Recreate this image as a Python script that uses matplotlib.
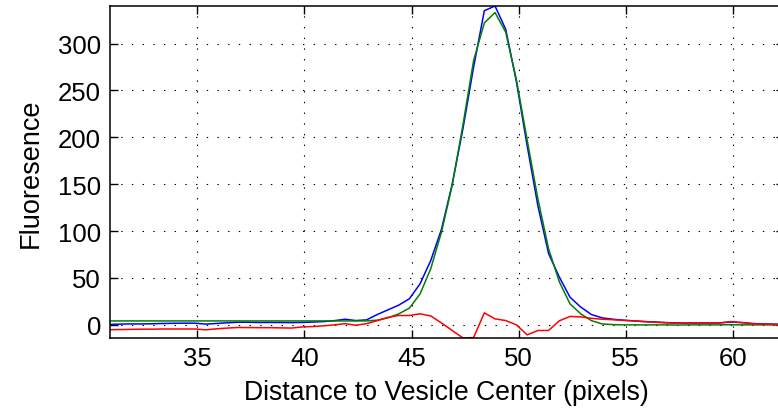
import numpy as np
import matplotlib
matplotlib.use("Agg")
import matplotlib.pyplot as plt

plt.rcParams['font.family'] = ['Liberation Sans', 'DejaVu Sans']
plt.rcParams['lines.scale_dashes'] = False

# distance to vesicle center (pixels)
distance = [30.9 + 0.5 * i for i in range(64)]

blue = [0.5, 0.8, 1.0, 1.0, 1.2, 1.5, 1.7, 1.8, 1.8, 0.8,
        1.5, 2.2, 2.8, 2.8, 2.5, 2.6, 2.5, 2.4, 2.6, 3.0,
        3.5, 4.5, 6.0, 4.6, 5.3, 11.0, 16.0, 21.0, 27.8, 43.8,
        68.7, 102.0, 150.0, 209.0, 275.0, 335.0, 340.0, 315.0, 259.0, 191.0,
        127.0, 76.0, 51.0, 29.5, 19.0, 11.0, 7.5, 6.0, 5.0, 4.2,
        3.5, 3.0, 2.4, 2.0, 2.0, 2.0, 2.0, 2.2, 3.0, 2.5,
        1.5, 1.0, 0.8, 0.5]

green = [4.2, 4.2, 4.2, 4.2, 4.2, 4.2, 4.2, 4.2, 4.2, 4.2,
         4.2, 4.2, 4.2, 4.2, 4.2, 4.2, 4.2, 4.2, 4.2, 4.2,
         4.2, 4.2, 4.2, 4.2, 4.2, 5.0, 7.5, 11.7, 17.8, 33.0,
         60.0, 99.0, 149.0, 213.0, 282.0, 322.0, 333.0, 312.0, 261.0, 197.0,
         134.5, 81.0, 46.0, 22.4, 11.8, 4.5, 1.0, 0.3, 0.0, 0.0,
         0.0, 0.0, 0.0, -0.2, 0.0, 0.0, 0.0, 0.0, 0.2, 0.0,
         0.0, 0.0, 0.0, 0.0]

red = [-5.2, -5.0, -4.8, -4.6, -4.6, -4.4, -4.4, -4.4, -4.4, -5.3,
       -4.2, -3.4, -2.8, -2.9, -3.0, -3.0, -3.2, -3.4, -2.2, -1.8,
       -1.0, 0.0, 1.3, -0.4, 1.3, 4.5, 8.0, 10.0, 10.0, 11.8,
       9.5, 2.0, -6.0, -14.0, -13.5, 12.8, 6.4, 4.6, 0.0, -10.7,
       -6.0, -6.0, 4.3, 9.0, 8.5, 7.0, 6.0, 5.5, 4.8, 4.2,
       3.4, 2.8, 2.2, 1.8, 2.0, 2.2, 1.8, 2.0, 3.5, 2.5,
       1.2, 0.8, 0.5, 0.5]

xticks = [35, 40, 45, 50, 55, 60]
yticks = [0, 50, 100, 150, 200, 250, 300]

fig = plt.figure(figsize=(7.78, 4.14), dpi=100)
ax = fig.add_axes([109.5 / 778, 75 / 414, (784.2 - 109.5) / 778, 332 / 414])

ax.plot(distance, blue, color=(0, 0, 1), lw=1.1)
ax.plot(distance, green, color=(0, 0.5, 0), lw=1.1)
ax.plot(distance, red, color=(1, 0, 0), lw=1.1)

ax.set_xlim(30.9, 62.4)
ax.set_ylim(-14, 340)
ax.set_xticks(xticks)
ax.set_yticks(yticks)
ax.grid(True, color='black', linestyle=(0, (1.0, 6.7)), linewidth=0.8)
ax.tick_params(direction='in', length=6, width=1.0, labelsize=18.5,
               top=True, right=True, pad=6)
for s in ax.spines.values():
    s.set_linewidth(1.1)

ax.set_xlabel('Distance to Vesicle Center (pixels)', fontsize=19.2, labelpad=6)
ax.set_ylabel('Fluoresence', fontsize=19.5, labelpad=10)

fig.savefig('out.png', dpi=100)
